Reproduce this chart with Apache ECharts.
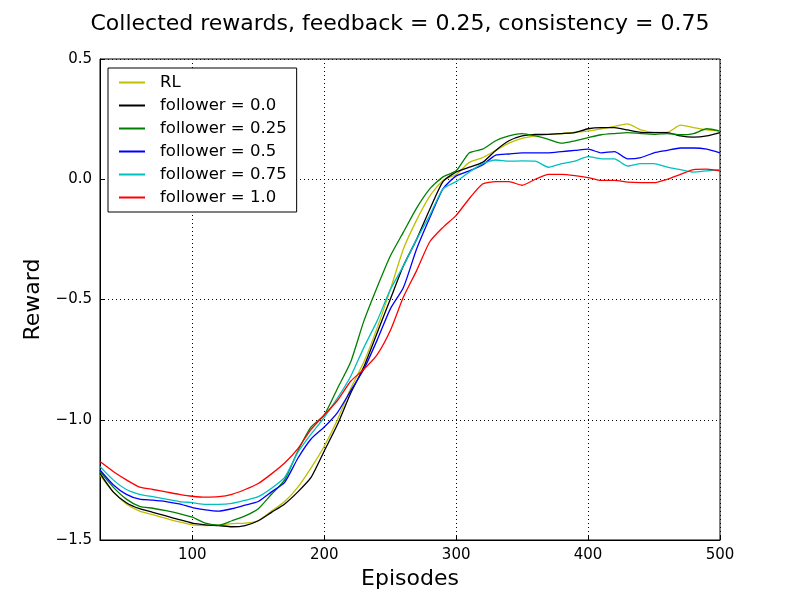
<!DOCTYPE html>
<html>
<head>
<meta charset="utf-8">
<script src="https://cdn.jsdelivr.net/npm/echarts@6/dist/echarts.min.js"></script>
<style>
  html, body { margin: 0; padding: 0; background: #fff; }
  #main { width: 800px; height: 600px; }
</style>
</head>
<body>
<div id="main"></div>
<script>
// episodes (x) and rewards
var episodes = [30, 40, 50, 60, 70, 80, 90, 100, 110, 120, 130, 140, 150, 160, 170, 180, 190, 200,
    210, 220, 230, 240, 250, 260, 270, 280, 290, 300, 310, 320, 330, 340, 350, 360, 370, 380, 390, 400,
    410, 420, 430, 440, 450, 460, 470, 480, 490, 500];

var rl = [-1.23, -1.30, -1.35, -1.38, -1.395, -1.41, -1.425, -1.437, -1.44, -1.438, -1.432, -1.43, -1.42, -1.38,
    -1.34, -1.28, -1.20, -1.11, -1.00, -0.87, -0.76, -0.62, -0.46, -0.29, -0.17, -0.07, -0.005, 0.02, 0.07, 0.09,
    0.12, 0.15, 0.17, 0.18, 0.187, 0.19, 0.196, 0.20, 0.21, 0.22, 0.23, 0.205, 0.195, 0.195, 0.225, 0.215, 0.205, 0.20];

var f00 = [-1.223, -1.30, -1.345, -1.37, -1.385, -1.40, -1.415, -1.43, -1.437, -1.44, -1.445, -1.44, -1.42, -1.385,
    -1.35, -1.30, -1.24, -1.13, -1.02, -0.89, -0.78, -0.64, -0.50, -0.36, -0.25, -0.125, -0.01, 0.03, 0.05, 0.07,
    0.12, 0.16, 0.18, 0.187, 0.187, 0.19, 0.194, 0.21, 0.215, 0.215, 0.205, 0.195, 0.194, 0.194, 0.18, 0.175, 0.18, 0.194];

var f025 = [-1.216, -1.28, -1.33, -1.36, -1.368, -1.378, -1.39, -1.405, -1.43, -1.438, -1.42, -1.40, -1.37, -1.31,
    -1.25, -1.13, -1.03, -0.98, -0.87, -0.76, -0.59, -0.45, -0.32, -0.22, -0.12, -0.04, 0.01, 0.035, 0.11, 0.125,
    0.16, 0.18, 0.19, 0.18, 0.166, 0.15, 0.16, 0.173, 0.185, 0.19, 0.194, 0.19, 0.187, 0.19, 0.185, 0.19, 0.21, 0.20];

var f05 = [-1.209, -1.27, -1.31, -1.33, -1.334, -1.34, -1.35, -1.365, -1.375, -1.38, -1.37, -1.355, -1.34, -1.30,
    -1.26, -1.16, -1.08, -1.03, -0.97, -0.88, -0.79, -0.67, -0.54, -0.45, -0.29, -0.16, -0.04, 0.014, 0.035, 0.06,
    0.10, 0.105, 0.11, 0.11, 0.11, 0.115, 0.12, 0.125, 0.11, 0.115, 0.085, 0.09, 0.11, 0.12, 0.13, 0.13, 0.125, 0.11];

var f075 = [-1.195, -1.25, -1.29, -1.31, -1.32, -1.33, -1.34, -1.345, -1.352, -1.352, -1.348, -1.335, -1.32, -1.285,
    -1.24, -1.135, -1.06, -0.99, -0.91, -0.82, -0.70, -0.59, -0.46, -0.36, -0.25, -0.15, -0.04, -0.01, 0.03, 0.065,
    0.08, 0.075, 0.076, 0.075, 0.05, 0.065, 0.075, 0.094, 0.085, 0.085, 0.055, 0.065, 0.065, 0.05, 0.04, 0.03, 0.035, 0.04];

var f10 = [-1.174, -1.215, -1.25, -1.28, -1.29, -1.30, -1.31, -1.318, -1.322, -1.32, -1.31, -1.29, -1.265, -1.225,
    -1.18, -1.12, -1.04, -0.98, -0.92, -0.84, -0.79, -0.73, -0.63, -0.49, -0.38, -0.26, -0.20, -0.15, -0.08, -0.02,
    -0.01, -0.01, -0.025, 0.0, 0.02, 0.02, 0.015, 0.007, -0.005, -0.005, -0.012, -0.014, -0.014, 0.0, 0.02, 0.04, 0.042, 0.035];

var seriesNames = ['RL', 'follower = 0.0', 'follower = 0.25', 'follower = 0.5', 'follower = 0.75', 'follower = 1.0'];
var seriesData = [rl, f00, f025, f05, f075, f10];
var seriesColors = ['#bfbf00', '#000000', '#008000', '#0000ff', '#00bfbf', '#ff0000'];

var xTicks = [100, 200, 300, 400, 500];

function pairs(ys) {
    var out = [];
    for (var i = 0; i < episodes.length; i++) {
        out.push([episodes[i], ys[i]]);
    }
    return out;
}

var series = [];
for (var i = 0; i < seriesNames.length; i++) {
    series.push({
        name: seriesNames[i],
        type: 'line',
        data: pairs(seriesData[i]),
        showSymbol: false,
        symbol: 'none',
        smooth: 0.2,
        lineStyle: { color: seriesColors[i], width: 1.3 },
        itemStyle: { color: seriesColors[i] },
        animation: false
    });
}

var font = 'DejaVu Sans';
var chart = echarts.init(document.getElementById('main'));
var option = {
    backgroundColor: '#fff',
    title: {
        text: 'Collected rewards, feedback = 0.25, consistency = 0.75',
        left: 'center',
        top: 8,
        textStyle: { fontFamily: font, fontSize: 22, fontWeight: 'normal', color: '#000' }
    },
    legend: {
        orient: 'vertical',
        left: 108,
        top: 68,
        padding: [6, 10, 6, 11],
        itemWidth: 26,
        itemHeight: 2,
        itemGap: 6,
        icon: 'rect',
        borderColor: '#000',
        borderWidth: 1,
        borderRadius: 0,
        backgroundColor: '#fff',
        data: seriesNames,
        textStyle: { fontFamily: font, fontSize: 16.5, color: '#000', lineHeight: 17, padding: [0, 0, 0, 10] }
    },
    grid: { left: 100, right: 80, top: 59, bottom: 60, show: true, borderColor: '#000', borderWidth: 1 },
    xAxis: {
        type: 'value',
        min: 30,
        max: 500,
        name: 'Episodes',
        nameLocation: 'middle',
        nameGap: 28,
        nameTextStyle: { fontFamily: font, fontSize: 22, color: '#000' },
        axisLine: { show: true, onZero: false, lineStyle: { color: '#000' } },
        axisTick: { show: true, inside: true, length: 5, customValues: xTicks, lineStyle: { color: '#000' } },
        axisLabel: { customValues: xTicks, fontFamily: font, fontSize: 15, color: '#000', margin: 8 },
        splitLine: { show: true, lineStyle: { color: '#000', type: [1, 3], width: 1 } }
    },
    yAxis: {
        type: 'value',
        min: -1.5,
        max: 0.5,
        interval: 0.5,
        name: 'Reward',
        nameLocation: 'middle',
        nameGap: 47,
        nameTextStyle: { fontFamily: font, fontSize: 22, color: '#000' },
        axisLine: { show: true, onZero: false, lineStyle: { color: '#000' } },
        axisTick: { show: true, inside: true, length: 5, lineStyle: { color: '#000' } },
        axisLabel: {
            fontFamily: font, fontSize: 15, color: '#000', margin: 8,
            formatter: function (v) {
                var s = v.toFixed(1);
                return s.replace('-', '\u2212');
            }
        },
        splitLine: { show: true, lineStyle: { color: '#000', type: [1, 3], width: 1 } }
    },
    series: series
};
chart.setOption(option);
</script>
</body>
</html>
